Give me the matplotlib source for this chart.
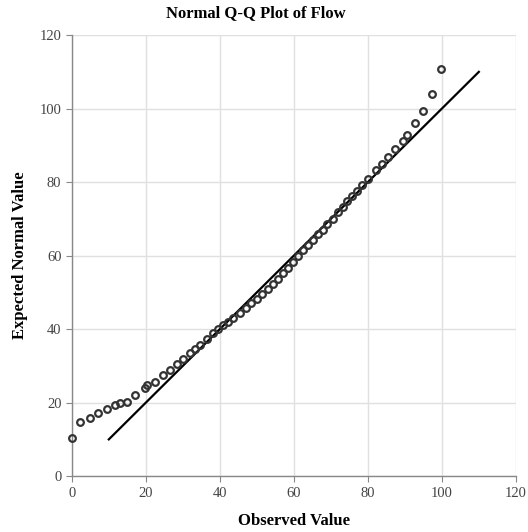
import matplotlib.pyplot as plt
import numpy as np

# Наблюдаемые значения и ожидаемые нормальные значения
observed = [0, 2.2, 4.9, 7.1, 9.4, 11.6, 13.0, 14.8, 17.0, 19.7, 20.2, 22.4,
            24.7, 26.5, 28.3, 30.1, 31.9, 33.2, 34.6, 36.4, 38.2, 39.5, 40.9,
            42.3, 43.6, 45.4, 47.2, 48.5, 50.0, 51.5, 53.0, 54.5, 55.8, 57.1,
            58.5, 59.8, 61.2, 62.5, 63.8, 65.2, 66.5, 67.8, 69.0, 70.5, 72.0,
            73.2, 74.5, 75.8, 77.0, 78.5, 80.0, 82.3, 83.7, 85.5, 87.3, 89.4,
            90.5, 92.7, 94.8, 97.4, 99.9]
expected = [10.3, 14.8, 15.7, 17.3, 18.4, 19.3, 19.8, 20.2, 22.0, 23.9, 24.8, 25.7,
            27.5, 29.0, 30.5, 32.0, 33.5, 34.5, 35.8, 37.3, 38.9, 40.0, 41.0,
            42.0, 43.0, 44.3, 45.8, 47.0, 48.3, 49.6, 51.0, 52.4, 53.7, 55.2,
            56.7, 58.3, 59.8, 61.4, 62.9, 64.3, 65.8, 67.1, 68.5, 70.1, 71.8,
            73.3, 74.8, 76.2, 77.6, 79.3, 80.9, 83.3, 84.9, 86.9, 88.9, 91.3,
            92.8, 96.0, 99.3, 103.9, 110.9]
line_x = [10, 110]
ticks = [0, 20, 40, 60, 80, 100, 120]

plt.rcParams['font.family'] = ['Liberation Serif', 'DejaVu Serif']

fig = plt.figure(figsize=(5.28, 5.32), dpi=100)
ax = fig.add_axes([0.136, 0.105, 0.841, 0.829])

ax.plot(line_x, line_x, color='black', linewidth=1.6, zorder=2)
ax.plot(observed, expected, linestyle='none', marker='o', markersize=4.8,
        markerfacecolor='none', markeredgecolor='#333333', markeredgewidth=1.6,
        zorder=3, clip_on=False)

ax.set_xlim(0, 120)
ax.set_ylim(0, 120)
ax.set_xticks(ticks)
ax.set_yticks(ticks)
ax.grid(True, color='#e0e0e0', linewidth=1.0)
ax.set_axisbelow(True)
for side in ['top', 'right']:
    ax.spines[side].set_visible(False)
for side in ['left', 'bottom']:
    ax.spines[side].set_color('#888888')
    ax.spines[side].set_linewidth(1.0)
ax.tick_params(colors='#888888', labelcolor='#444444', labelsize=10.5, length=4)

ax.set_xlabel('Observed Value', fontsize=12, fontweight='bold', labelpad=10)
ax.set_ylabel('Expected Normal Value', fontsize=12, fontweight='bold', labelpad=8)
fig.suptitle('Normal Q-Q Plot of Flow', x=0.485, y=0.99, fontsize=12, fontweight='bold')

plt.savefig('out.png', dpi=100)
